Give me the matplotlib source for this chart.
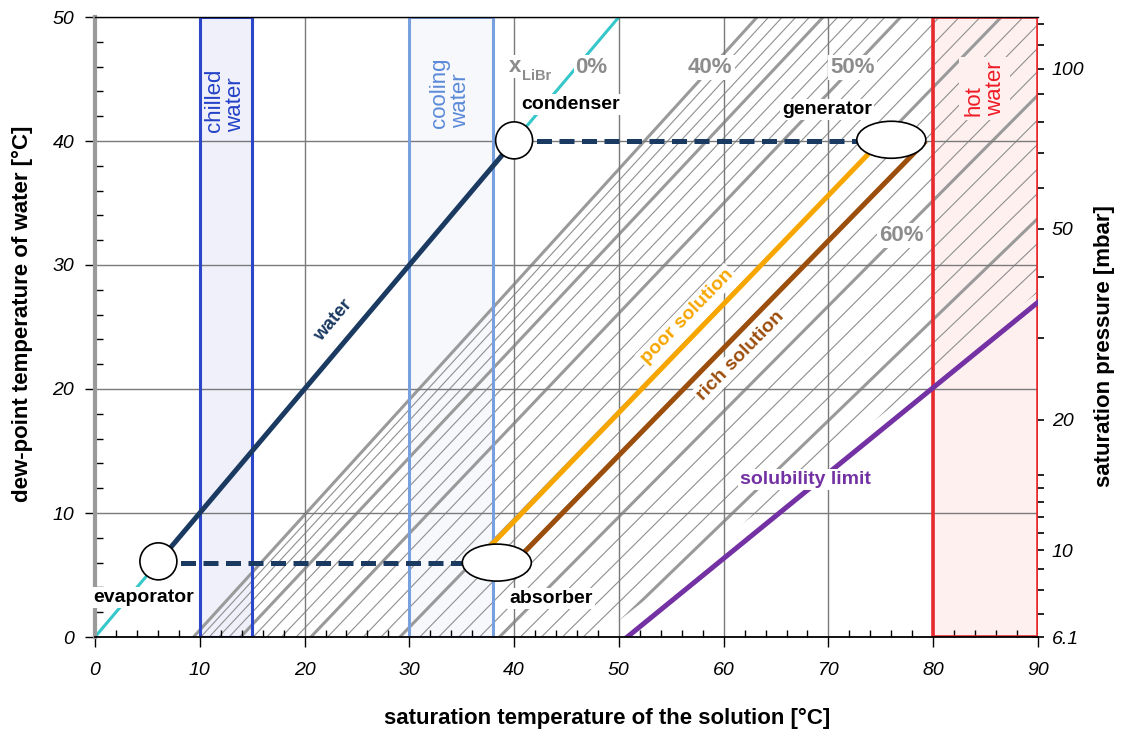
import numpy as np
import matplotlib
matplotlib.use("Agg")
import matplotlib.pyplot as plt
from matplotlib.patches import Rectangle, Ellipse, Polygon
from matplotlib.collections import LineCollection

plt.rcParams['font.family'] = ['Liberation Sans', 'DejaVu Sans']

# ---------------------------------------------------------------- data --
# LiBr mass fraction lines [%]: solution temperature [°C] at a water
# dew point of 0 °C and of 50 °C
conc_pct = [40, 41, 42, 43, 44, 45, 46, 47, 48, 49,
            50, 51, 52, 53, 54, 55, 56, 57, 58, 59,
            60, 61, 62, 63, 64, 65, 66, 67, 68, 69, 70]
t_sol_at_dew0 = [9.4, 10.1, 10.9, 11.8, 12.8, 13.9, 15.1, 16.4, 17.8, 19.2,
                 20.6, 22.2, 23.9, 25.6, 27.3, 29.1, 31.0, 32.8, 34.7, 36.7,
                 38.6, 40.6, 42.6, 44.6, 46.6, 48.6, 50.6, 52.6, 54.6, 56.5, 58.5]
t_sol_at_dew50 = [63.2, 64.3, 65.6, 66.9, 68.2, 69.5, 70.9, 72.4, 73.9, 75.4,
                  76.9, 78.7, 80.6, 82.5, 84.5, 86.5, 88.6, 90.7, 92.9, 95.1,
                  97.4, 99.8, 102.2, 104.7, 107.2, 109.9, 112.6, 115.3, 118.1, 121.0, 124.0]
labelled_pct = ["0%", "40%", "50%", "60%"]

# where the concentration lines end (onset of crystallisation)
cryst_end_t = [48.0, 90.0]
cryst_end_dew = [0.0, 27.8]

# pure water (x_LiBr = 0 %)
pure_water_t = [0, 50]
pure_water_dew = [0, 50]

# absorption cycle
water_t, water_dew = [6, 40], [6, 40]
evap_abs_t, evap_abs_dew = [6, 38.35], [6, 6]
cond_gen_t, cond_gen_dew = [40, 76.0], [40, 40]
poor_t, poor_dew = [36.2, 75.0], [6, 40]
rich_t, rich_dew = [40.0, 79.3], [6, 40]

# solubility limit
sol_limit_t = [50.8, 90.0]
sol_limit_dew = [0.0, 27.0]

# temperature bands: (t_min, t_max)
chilled_band = (10, 15)
cooling_band = (30, 38)
hot_band = (80, 90)

# components: name, t, dew, shape
components = [("evaporator", 6.05, 6.1, "circle"),
              ("condenser", 40.0, 40.05, "circle"),
              ("absorber", 38.35, 6.0, "ellipse"),
              ("generator", 76.0, 40.1, "ellipse")]

x_ticks = [0, 10, 20, 30, 40, 50, 60, 70, 80, 90]
y_ticks = [0, 10, 20, 30, 40, 50]
p_ticks = [6.112, 10, 20, 50, 100]
p_tick_labels = ["6.1", "10", "20", "50", "100"]
p_minor = [7, 8, 9, 11, 12, 13, 14, 15, 30, 40, 60, 70, 80, 90, 110, 120]

NAVY = "#1b3a62"
CYAN = "#35c7c9"
ORANGE = "#f7a600"
BROWN = "#9c4e0c"
PURPLE = "#7331a3"
GREY_TXT = "#8c8c8c"


def dew_to_p(t):
    t = np.asarray(t, dtype=float)
    return 6.112 * np.exp(17.62 * t / (243.12 + t))


def p_to_dew(p):
    p = np.clip(np.asarray(p, dtype=float), 1e-6, None)
    lg = np.log(p / 6.112)
    return 243.12 * lg / (17.62 - lg)


# ---------------------------------------------------------------- figure --
fig = plt.figure(figsize=(11.24, 7.37), dpi=100)
ax = fig.add_axes([95 / 1124, 1 - 637 / 737, 943 / 1124, 620 / 737])
ax.set_xlim(0, 90)
ax.set_ylim(0, 50)

# band fills
band_specs = [(chilled_band, "#eff0fa", "#2b46c8"),
              (cooling_band, "#f6f8fc", "#78a0de"),
              (hot_band, "#fff0f0", "#e82a2e")]
for (t0, t1), fill, edge in band_specs:
    ax.add_patch(Rectangle((t0, 0), t1 - t0, 50, facecolor=fill,
                           edgecolor="none", zorder=0.2))

# concentration lines, cut at the crystallisation onset and the plot frame
clip_poly = Polygon([(0, 0), (cryst_end_t[0], cryst_end_dew[0]),
                     (cryst_end_t[1], cryst_end_dew[1]), (90, 50), (0, 50)],
                    closed=True, transform=ax.transData)
thin_segs, thick_segs = [], []
for c, a, b in zip(conc_pct, t_sol_at_dew0, t_sol_at_dew50):
    seg = [(a, 0), (b, 50)]
    (thick_segs if c % 5 == 0 else thin_segs).append(seg)
lc_thin = LineCollection(thin_segs, colors="#8f8f8f", linewidths=0.8, zorder=1.0)
lc_thick = LineCollection(thick_segs, colors="#9a9a9a", linewidths=2.2, zorder=1.1)
for lc in (lc_thin, lc_thick):
    lc.set_clip_path(clip_poly)
    ax.add_collection(lc)

# grid
ax.set_xticks(x_ticks)
ax.set_yticks(y_ticks)
ax.set_xticks(np.arange(0, 91, 2), minor=True)
ax.set_yticks(np.arange(0, 51, 2), minor=True)
ax.set_axisbelow("line")
ax.grid(True, which="major", color="#7a7a7a", linewidth=1.0)

# band outlines
for (t0, t1), fill, edge in band_specs:
    ax.add_patch(Rectangle((t0, 0), t1 - t0, 50, facecolor="none",
                           edgecolor=edge, linewidth=2.2 if edge != "#e82a2e" else 2.6,
                           zorder=1.7))

# pure water and cycle lines
ax.plot(pure_water_t, pure_water_dew, color=CYAN, lw=2.2, zorder=2.0)
ax.plot(water_t, water_dew, color=NAVY, lw=3.6, zorder=2.2, solid_capstyle="butt")
for tt, dd in ((evap_abs_t, evap_abs_dew), (cond_gen_t, cond_gen_dew)):
    ax.plot(tt, dd, color=NAVY, lw=3.6, linestyle=(0, (3.0, 1.5)),
            dash_capstyle="butt", zorder=2.2)
ax.plot(poor_t, poor_dew, color=ORANGE, lw=3.6, zorder=2.3, solid_capstyle="butt")
ax.plot(rich_t, rich_dew, color=BROWN, lw=3.6, zorder=2.3, solid_capstyle="butt")
ax.plot(sol_limit_t, sol_limit_dew, color=PURPLE, lw=3.6, zorder=2.3)

# components
px_t = 90 / 943.0   # data units per pixel (x)
px_d = 50 / 620.0   # data units per pixel (y)
for name, t, d, shape in components:
    w = (37 if shape == "circle" else 69) * px_t
    h = 37 * px_d
    ax.add_patch(Ellipse((t, d), w, h, facecolor="white", edgecolor="black",
                         linewidth=1.2, zorder=4))


def tag(x, y, s, color, size=14, weight="bold", rot=0, bg="white", pad=1.5, **kw):
    ax.text(x, y, s, color=color, fontsize=size, fontweight=weight,
            rotation=rot, ha="center", va="center", rotation_mode="anchor",
            bbox=dict(facecolor=bg, edgecolor="none", pad=pad), zorder=5, **kw)


# component labels
tag(4.6, 3.2, "evaporator", "black")
tag(45.4, 42.95, "condenser", "black")
tag(43.55, 3.1, "absorber", "black")
tag(69.9, 42.55, "generator", "black")

# line labels
tag(22.8, 25.5, "water", NAVY, size=13.5, rot=49.8, bg="none", pad=0)
tag(56.5, 25.85, "poor solution", ORANGE, size=14, rot=45.8)
tag(61.6, 22.66, "rich solution", BROWN, size=14, rot=45.8)
tag(67.85, 12.7, "solubility limit", PURPLE, size=14)

# concentration labels
tag(40.05, 46.0, "x", GREY_TXT, size=16, pad=1)
tag(42.15, 45.25, "LiBr", GREY_TXT, size=10.5, pad=1)
tag(47.4, 45.95, labelled_pct[0], GREY_TXT, size=16)
tag(58.72, 45.95, labelled_pct[1], GREY_TXT, size=16)
tag(72.28, 45.95, labelled_pct[2], GREY_TXT, size=16)
tag(76.95, 32.4, labelled_pct[3], GREY_TXT, size=16)

# band labels
ax.text(12.45, 43.3, "chilled\nwater", color="#2341c8", fontsize=16, rotation=90,
        ha="center", va="center", multialignment="left", zorder=5,
        linespacing=1.0)
ax.text(33.9, 43.9, "cooling\nwater", color="#5b8ad8", fontsize=16, rotation=90,
        ha="center", va="center", multialignment="left", zorder=5,
        linespacing=1.0)
ax.text(84.9, 44.2, "hot\nwater", color="#ee1c25", fontsize=16, rotation=90,
        ha="center", va="center", multialignment="left", zorder=5,
        linespacing=1.0, bbox=dict(facecolor="#fff0f0", edgecolor="none", pad=3))

# spines
ax.spines["left"].set_color("#9a9a9a")
ax.spines["left"].set_linewidth(3.0)
ax.spines["bottom"].set_color("black")
ax.spines["bottom"].set_linewidth(1.3)
ax.spines["top"].set_color("black")
ax.spines["top"].set_linewidth(1.0)
ax.spines["right"].set_visible(False)

# ticks
ax.tick_params(axis="x", which="major", direction="out", length=7, width=1,
               pad=11, labelsize=14)
ax.tick_params(axis="x", which="minor", direction="in", length=5, width=1)
ax.tick_params(axis="y", which="major", direction="out", length=7, width=1,
               pad=8, labelsize=14)
ax.tick_params(axis="y", which="minor", direction="in", length=6, width=1)
for lab in ax.get_xticklabels() + ax.get_yticklabels():
    lab.set_fontstyle("italic")

sec = ax.secondary_yaxis("right", functions=(dew_to_p, p_to_dew))
sec.set_yticks(p_ticks, labels=p_tick_labels)
sec.set_yticks(p_minor, minor=True)
sec.spines["right"].set_visible(False)
sec.tick_params(which="major", direction="inout", length=8, width=1.2,
                pad=6, labelsize=14)
sec.tick_params(which="minor", direction="out", length=4, width=1.2)
for lab in sec.get_yticklabels():
    lab.set_fontstyle("italic")

# axis titles
ax.text(0.543, -0.132, "saturation temperature of the solution [°C]",
        transform=ax.transAxes, ha="center", va="center", fontsize=16,
        fontweight="bold")
ax.text(-0.0774, 0.521, "dew-point temperature of water [°C]",
        transform=ax.transAxes, ha="center", va="center", fontsize=16,
        fontweight="bold", rotation=90)
ax.text(1.0705, 0.4685, "saturation pressure [mbar]",
        transform=ax.transAxes, ha="center", va="center", fontsize=16,
        fontweight="bold", rotation=90)

fig.savefig("out.png", dpi=100)
